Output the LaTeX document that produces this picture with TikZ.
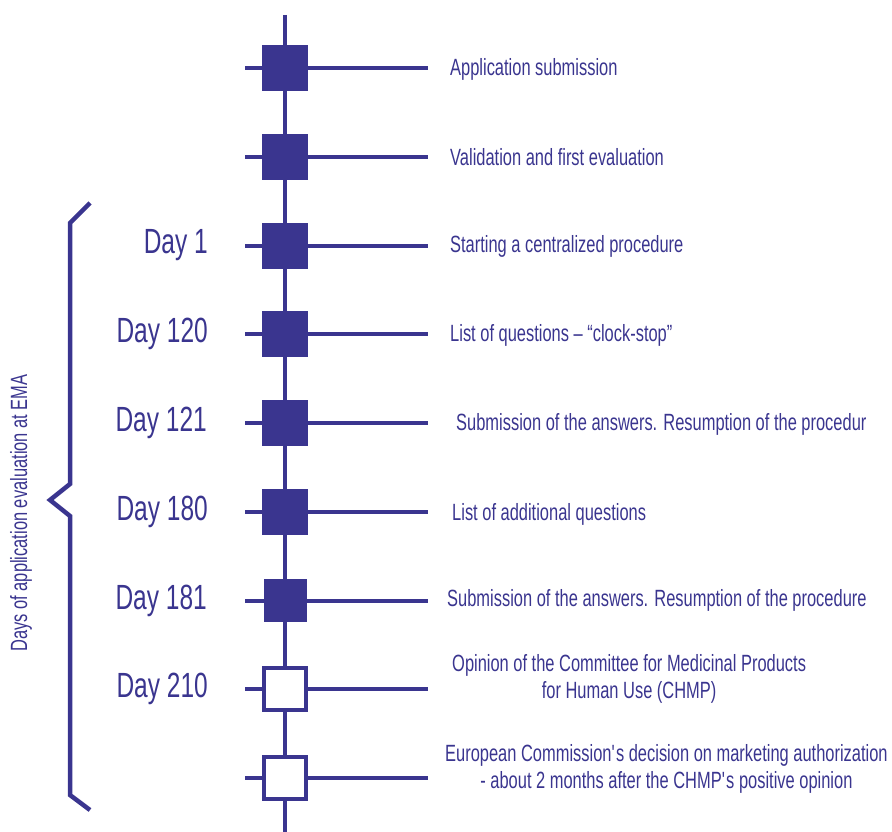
\documentclass[tikz,border=0pt]{standalone}
\usepackage{fontspec}
\setmainfont{Liberation Sans}[FakeStretch=0.7]
\usetikzlibrary{positioning,backgrounds}
\definecolor{emablue}{RGB}{58,53,143}
\begin{document}
\begin{tikzpicture}[x=1pt,y=-1pt,node distance=88.75pt]

    % Styles
    \tikzstyle{done} = [rectangle, minimum size=46pt, inner sep=0, fill=emablue, draw=none]
    \tikzstyle{open} = [rectangle, minimum size=42pt, inner sep=0, fill=white, draw=emablue, line width=4pt]
    \tikzstyle{day} = [inner sep=0, text=emablue, font=\fontsize{35}{40}\selectfont]
    \tikzstyle{stage} = [inner sep=0, text=emablue, align=center, font=\fontsize{23.5}{27}\selectfont]
    \tikzstyle{track} = [emablue, line width=4pt]

    \useasboundingbox (0,0) rectangle (892,832);

    % Squares
    \node (s1) [done] at (285,68) {};
    \node (s2) [done, below of=s1] {};
    \node (s3) [done, below of=s2] {};
    \node (s4) [done, below of=s3] {};
    \node (s5) [done, below of=s4] {};
    \node (s6) [done, below of=s5] {};
    \node (s7) [done, below of=s6, minimum size=43pt] {};
    \node (s8) [open, below of=s7] {};
    \node (s9) [open, below of=s8] {};

    % Days
    \node (d3) [day, left=77pt of s3.center] {Day 1};
    \node (d4) [day, left=77pt of s4.center] {Day 120};
    \node (d5) [day, left=78pt of s5.center] {Day 121};
    \node (d6) [day, left=77pt of s6.center] {Day 180};
    \node (d7) [day, left=78pt of s7.center] {Day 181};
    \node (d8) [day, left=77pt of s8.center] {Day 210};

    % Stages
    \node (t1) [stage, right=165pt of s1.center, yshift=-1pt] {Application submission};
    \node (t2) [stage, right=165pt of s2.center] {Validation and first evaluation};
    \node (t3) [stage, right=165pt of s3.center, yshift=-1pt] {Starting a centralized procedure};
    \node (t4) [stage, right=165pt of s4.center, yshift=-1pt] {List of questions – “clock-stop”};
    \node (t5) [stage, right=171pt of s5.center, yshift=-1pt] {Submission of the answers. Resumption of the procedur};
    \node (t6) [stage, right=167pt of s6.center, yshift=-3pt] {List of additional questions};
    \node (t7) [stage, right=162pt of s7.center] {Submission of the answers. Resumption of the procedure};
    \node (t8) [stage, right=167pt of s8.center, yshift=10pt] {Opinion of the Committee for Medicinal Products\\for Human Use (CHMP)};
    \node (t9) [stage, right=160pt of s9.center, yshift=9pt] {European Commission\textquotesingle s decision on marketing authorization\\- about 2 months after the CHMP\textquotesingle s positive opinion};

    % Ends of the lines
    \coordinate (top) at (285,15);
    \coordinate (bottom) at (285,832);
    \foreach \i in {1,...,9} {
        \path (s\i.center) +(-40,0) coordinate (a\i) +(143,0) coordinate (b\i);
    }

    % Lines
    \begin{scope}[on background layer]
        \draw [track] (top) -- (bottom);
        \foreach \i in {1,...,9} {\draw [track] (a\i) -- (b\i);}
    \end{scope}

    % Brace
    \draw [track, line width=4.5pt, line join=miter] (90,203) -- (70,223) -- (70,484) -- (50,500) -- (70,516) -- (70,795) -- (90,810);
    \node (ema) [text=emablue, rotate=90, inner sep=0, font=\fontsize{23.5}{27}\selectfont] at (21,513) {Days of application evaluation at EMA};

\end{tikzpicture}
\end{document}
